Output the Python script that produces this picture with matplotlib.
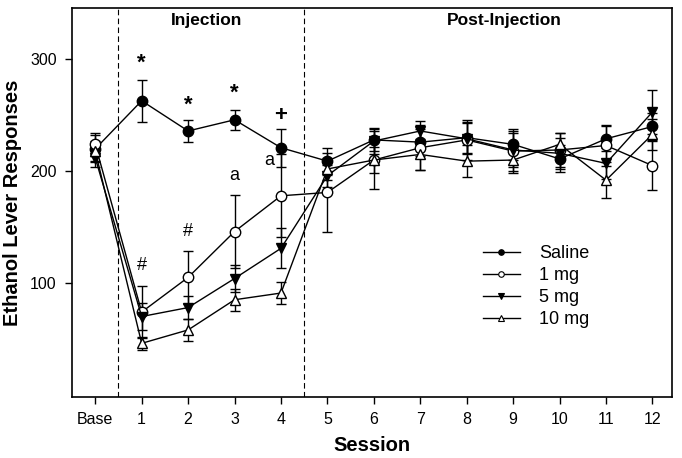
import matplotlib
matplotlib.use("Agg")
import matplotlib.pyplot as plt
from matplotlib.lines import Line2D

plt.rcParams["font.family"] = ["Liberation Sans", "DejaVu Sans"]

# data (mean +/- SEM)
sessions = ["Base", "1", "2", "3", "4", "5", "6", "7", "8", "9", "10", "11", "12"]

saline = [220, 263, 236, 246, 221, 209, 228, 226, 230, 224, 211, 229, 240]
saline_se = [12, 19, 10, 9, 17, 12, 10, 12, 14, 14, 12, 11, 12]

one_mg = [224, 74, 105, 146, 178, 181, 210, 221, 228, 218, 219, 223, 205]
one_mg_se = [10, 23, 24, 33, 37, 35, 26, 20, 18, 18, 15, 18, 22]

five_mg = [212, 70, 78, 104, 131, 196, 227, 236, 229, 219, 216, 207, 253]
five_mg_se = [8, 12, 10, 12, 18, 10, 12, 9, 14, 15, 14, 14, 20]

ten_mg = [218, 46, 58, 85, 91, 202, 210, 215, 209, 210, 224, 192, 233]
ten_mg_se = [9, 6, 10, 10, 10, 10, 12, 14, 14, 12, 10, 16, 14]

# significance marks: (x index, y value, text)
marks = [(1, 297, "*"), (2, 259, "*"), (3, 270, "*"), (4, 250, "+"),
         (1, 116, "#"), (2, 146, "#"), (3, 196, "a"), (3.75, 210, "a")]

groups = [
    ("Saline", saline, saline_se, "o", "black"),
    ("1 mg", one_mg, one_mg_se, "o", "white"),
    ("5 mg", five_mg, five_mg_se, "v", "black"),
    ("10 mg", ten_mg, ten_mg_se, "^", "white"),
]

fig = plt.figure(figsize=(6.82, 4.58), dpi=100)
ax = fig.add_axes([0.1056, 0.1332, 0.8797, 0.8493])
x = list(range(len(sessions)))

for label, vals, se, mk, fc in groups:
    ax.errorbar(x, vals, yerr=se, color="black", linewidth=1.0,
                marker=mk, markersize=7.5, markerfacecolor=fc,
                markeredgecolor="black", markeredgewidth=1.0,
                ecolor="black", elinewidth=1.0, capsize=3.8, capthick=1.0)

for xv in (0.5, 4.5):
    ax.axvline(xv, color="black", linewidth=0.8, dashes=(5, 3))

for xi, yv, txt in marks:
    big = txt in "*+"
    ax.text(xi, yv, txt, ha="center", va="center",
            fontsize=16 if big else 13,
            fontweight="bold" if big else "normal")

ax.text(2.4, 335, "Injection", ha="center", va="center", fontsize=12.5, fontweight="bold")
ax.text(8.8, 335, "Post-Injection", ha="center", va="center", fontsize=12.5, fontweight="bold")

ax.set_xlim(-0.5, 12.42)
ax.set_ylim(-2, 346)
ax.set_xticks(x)
ax.set_xticklabels(sessions)
ax.set_yticks([100, 200, 300])
ax.tick_params(axis="both", direction="out", length=5, width=1, labelsize=11.5,
               top=False, right=False, pad=6)
for sp in ax.spines.values():
    sp.set_linewidth(1.2)

ax.set_xlabel("Session", fontsize=14.5, fontweight="bold", labelpad=6)
ax.set_ylabel("Ethanol Lever Responses", fontsize=14.5, fontweight="bold", labelpad=6)

handles = [Line2D([0], [0], color="black", linewidth=1.0, marker=mk, markersize=4,
                  markerfacecolor=fc, markeredgecolor="black", markeredgewidth=0.8)
           for _, _, _, mk, fc in groups]
ax.legend(handles, [g[0] for g in groups], loc="center left",
          bbox_to_anchor=(0.685, 0.284), frameon=False, fontsize=13,
          handlelength=2.05, handletextpad=1.05, labelspacing=0.28,
          borderpad=0, borderaxespad=0)

fig.savefig("out.png", dpi=100)
